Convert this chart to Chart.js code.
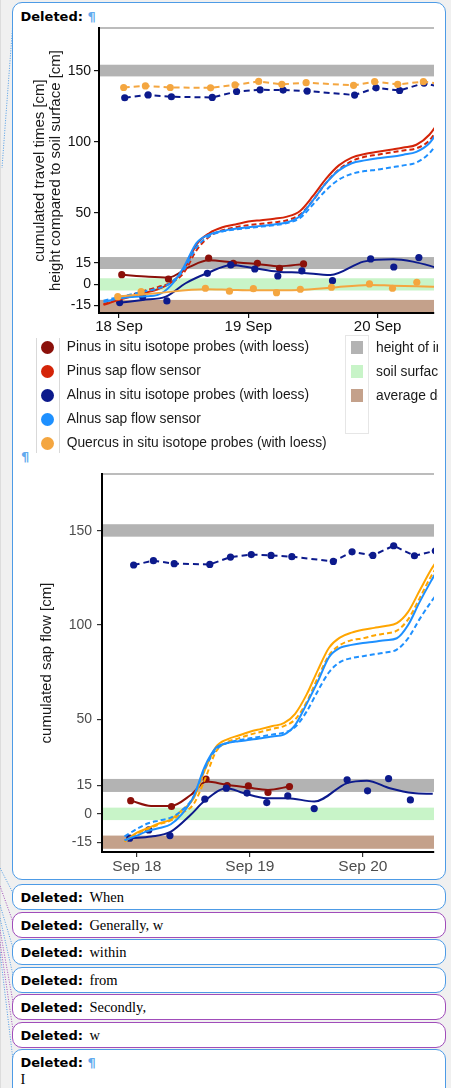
<!DOCTYPE html>
<html>
<head>
<meta charset="utf-8">
<script src="https://cdn.jsdelivr.net/npm/chart.js@4.4.1/dist/chart.umd.min.js"></script>
<style>
  body { margin:0; width:451px; height:1088px; background:#f0f0f0; position:relative; overflow:hidden;
         font-family:"Liberation Sans", Arial, sans-serif; }
  .bal { position:absolute; left:12px; width:434px; box-sizing:border-box; background:#fff;
         border:1.5px solid #4d9be6; border-radius:10px; padding-left:7.5px; line-height:23px; }
  .bal.p { border-color:#a04cba; }
  .d { font:bold 13px "DejaVu Sans", sans-serif; color:#000; }
  .s { font:14.5px "Liberation Serif", serif; color:#000; margin-left:2px; }
  .pil { font:bold 13px "DejaVu Sans", sans-serif; color:#62aaee; }
  canvas { position:absolute; left:0; }
  #leg { position:absolute; left:0; top:330px; width:438px; height:130px; overflow:hidden; }
  #leg div { position:absolute; }
  .lt { font-size:13.8px; color:#1a1a1a; white-space:nowrap; line-height:16px; }
</style>
</head>
<body>

<svg width="451" height="1088" style="position:absolute;left:0;top:0">
  <line x1="0.5" y1="0" x2="0.5" y2="1088" stroke="#dcdcdc" stroke-width="1"/>
  <g fill="none" stroke-width="1" stroke-dasharray="1,1.5">
    <line x1="14" y1="8" x2="2" y2="168" stroke="#4d9be6"/>
    <line x1="0" y1="868" x2="13" y2="893" stroke="#4d9be6"/>
    <line x1="0" y1="886" x2="13" y2="922" stroke="#a04cba"/>
    <line x1="0" y1="905" x2="13" y2="948" stroke="#4d9be6"/>
    <line x1="0" y1="918" x2="13" y2="975" stroke="#4d9be6"/>
    <line x1="0" y1="930" x2="13" y2="1002" stroke="#a04cba"/>
    <line x1="0" y1="942" x2="13" y2="1030" stroke="#a04cba"/>
    <line x1="0" y1="952" x2="13" y2="1060" stroke="#4d9be6"/>
  </g>
</svg>

<div class="bal" style="top:2px;height:878px;line-height:26px"><span class="d">Deleted:</span> <span class="pil">¶</span>
  <div class="pil" style="position:absolute;left:8px;top:446px">¶</div>
</div>
<div class="bal" style="top:884px;height:26px"><span class="d">Deleted:</span> <span class="s">When</span></div>
<div class="bal p" style="top:912px;height:26px"><span class="d">Deleted:</span> <span class="s">Generally, w</span></div>
<div class="bal" style="top:939px;height:26px"><span class="d">Deleted:</span> <span class="s">within</span></div>
<div class="bal" style="top:967px;height:26px"><span class="d">Deleted:</span> <span class="s">from</span></div>
<div class="bal p" style="top:994px;height:26px"><span class="d">Deleted:</span> <span class="s">Secondly,</span></div>
<div class="bal p" style="top:1022px;height:26px"><span class="d">Deleted:</span> <span class="s">w</span></div>
<div class="bal" style="top:1049px;height:60px;line-height:17px;padding-top:3px"><span class="d">Deleted:</span> <span class="pil">¶</span><br><span class="s" style="margin:0">I</span></div>

<canvas id="c1" width="438" height="340" style="top:0"></canvas>
<div id="leg"></div>
<canvas id="c2" width="438" height="420" style="top:460px"></canvas>

<script>
Chart.defaults.font.family = '"Liberation Sans", Arial, sans-serif';

// shared axis ticks (days after 18 Sep)
const xTickDays = [0, 1, 2];
const xLabels1 = ["18 Sep", "19 Sep", "20 Sep"];
const xLabels2 = ["Sep 18", "Sep 19", "Sep 20"];
const yTicks = [-15, 0, 15, 50, 100, 150];

// reference bands (gray = probe heights, green = soil surface, brown = depth)
const bandColors = ["#b3b3b3", "#b3b3b3", "#c8f4c8", "#c4a18b"];
const bandLo1 = [146, 10.7, -4.4, -19.9];
const bandHi1 = [154.2, 19.1, 4.2, -11];
const bandLo2 = [146.8, 11.6, -3.3, -18.5];
const bandHi2 = [153.4, 18.5, 3.3, -11.5];

// ---------- top panel ----------
const quercusTopX1 = [0.036, 0.204, 0.396, 0.708, 0.897, 1.08, 1.259, 1.447, 1.814, 1.977, 2.155, 2.354, 2.55];
const quercusTopY1 = [138.2, 139.3, 138.2, 138, 140, 142.5, 140.4, 141.6, 139.7, 142.3, 140.4, 142.3, 140];
const alnusTopX1 = [0.044, 0.225, 0.405, 0.721, 0.909, 1.091, 1.269, 1.455, 1.822, 1.988, 2.17, 2.359, 2.55];
const alnusTopY1 = [131, 133, 131.7, 131.2, 135.4, 136.6, 136.4, 135.7, 132.9, 138, 136.1, 141.3, 137];

const pinusProbeX1 = [0.021, 0.382, 0.693, 0.884, 1.07, 1.241, 1.427];
const pinusProbeY1 = [6.7, 3.7, 18.3, 14.7, 14.7, 11.2, 14.3];
const pinusLoessX1 = [0.021, 0.23, 0.382, 0.54, 0.693, 0.884, 1.07, 1.241, 1.427];
const pinusLoessY1 = [6.7, 5.3, 4.8, 12, 16.8, 15.4, 14.3, 12.6, 14.3];

const alnusProbeX1 = [0.005, 0.183, 0.37, 0.683, 0.864, 1.05, 1.228, 1.414, 1.651, 1.946, 2.125, 2.319];
const alnusProbeY1 = [-12.9, -8.7, -11.7, 7.7, 13.6, 10.7, 5.8, 9.4, 2.5, 17.8, 12.1, 18.7];
const alnusLoessX1 = [0.018, 0.183, 0.362, 0.515, 0.68, 0.871, 1.05, 1.228, 1.414, 1.635, 1.891, 2.12, 2.273, 2.426, 2.55];
const alnusLoessY1 = [-12.9, -11, -8.7, 0.7, 7.7, 13.6, 11.2, 8.8, 8.1, 6.5, 15.9, 17.6, 15.9, 12.4, 9];

const quercusProbeX1 = [-0.01, 0.171, 0.668, 0.854, 1.039, 1.218, 1.402, 1.643, 1.937, 2.115, 2.303];
const quercusProbeY1 = [-8.7, -5.2, -2.8, -4.9, -3.1, -5.9, -3.5, -2.1, 0.2, -2.8, 1.4];
const quercusLoessX1 = [-0.024, 0.286, 0.668, 0.871, 1.04, 1.4, 1.643, 1.937, 2.115, 2.426, 2.55];
const quercusLoessY1 = [-8.7, -6.3, -3.5, -4, -4.3, -4, -2.4, -0.5, -1, -1.7, -2];

const sapDays1 = [-0.12, 0, 0.1, 0.2, 0.3, 0.4, 0.5, 0.6, 0.7, 0.8, 0.9, 1.0, 1.1, 1.2, 1.3, 1.4, 1.5, 1.6, 1.7, 1.8, 1.9, 2.0, 2.1, 2.2, 2.3, 2.4, 2.5];
const pinusSap1     = [-14.5, -11, -8.5, -6, -3.5, 1, 10, 28, 36, 40, 42, 44, 45, 46, 47.5, 51.5, 62, 74, 83.5, 89, 91.5, 93, 94.5, 96, 98, 105, 118];
const pinusSapDash1 = [-14, -10.5, -7.5, -4.5, -2, 1, 8, 24, 33.5, 38, 40, 41.5, 42.5, 43.5, 45, 49, 59, 71, 80.5, 86.5, 89.5, 91, 92.5, 94, 95.5, 101, 114];
const alnusSap1     = [-12.5, -10, -9, -8.5, -7.5, -1, 12, 29, 35, 37.5, 39, 40, 41, 42, 43.5, 48, 59, 71, 80, 85, 87, 88.5, 89.5, 91, 93, 99, 112];
const alnusSapDash1 = [-11.5, -9, -7, -5, -3, 1, 10, 26, 34, 37, 38.5, 39.5, 40.5, 41.5, 43, 46.5, 56, 66, 73.5, 77.5, 79.5, 80.5, 82, 83.5, 85.5, 92, 104];

// ---------- bottom panel ----------
const alnusTopX2 = [-0.029, 0.146, 0.33, 0.645, 0.828, 1.012, 1.187, 1.371, 1.738, 1.904, 2.088, 2.272, 2.456, 2.64];
const alnusTopY2 = [131.8, 134.1, 132.5, 132.1, 136, 137.3, 136.9, 136.2, 133.7, 138.8, 136.9, 142, 136.7, 139.3];

const pinusProbeX2 = [-0.055, 0.306, 0.612, 0.799, 0.986, 1.16, 1.35];
const pinusProbeY2 = [7, 3.9, 18.4, 15, 14.8, 11.3, 14.5];
const pinusLoessX2 = [-0.055, 0.126, 0.301, 0.476, 0.616, 0.796, 0.986, 1.16, 1.35];
const pinusLoessY2 = [7, 4.2, 4.2, 10, 17.1, 15.4, 13.9, 12.7, 14.5];

const alnusProbeX2 = [-0.064, 0.105, 0.292, 0.601, 0.791, 0.974, 1.149, 1.335, 1.569, 1.86, 2.041, 2.227, 2.42];
const alnusProbeY2 = [-12.9, -8.5, -11.5, 7.8, 13.6, 11, 6, 9.5, 2.8, 18, 12.2, 18.7, 7.4];
const alnusLoessX2 = [-0.055, 0.126, 0.301, 0.476, 0.592, 0.796, 0.942, 1.149, 1.335, 1.569, 1.86, 2.035, 2.239, 2.443, 2.618];
const alnusLoessY2 = [-12.9, -12, -9.4, -0.5, 6.5, 13.6, 11, 8.3, 8.3, 6.5, 16.3, 17.6, 13.6, 11, 10.6];

const sapDays2 = [-0.11, 0, 0.1, 0.2, 0.3, 0.4, 0.5, 0.6, 0.7, 0.8, 0.9, 1.0, 1.1, 1.2, 1.3, 1.4, 1.5, 1.6, 1.7, 1.8, 1.9, 2.0, 2.1, 2.2, 2.3, 2.4, 2.5, 2.6, 2.7];
const quercusSap2     = [-14.7, -10, -7.5, -5, -3, 2, 8, 23, 35.5, 39.5, 41.5, 43.5, 45, 46.5, 48, 53, 63, 76, 88, 93.5, 96, 97.5, 98.5, 99.5, 101, 107, 118, 129, 138];
const quercusSapDash2 = [-14.5, -10.5, -8, -5.5, -3.5, 0.5, 5, 18, 33, 38, 40, 42, 43.5, 45, 46.5, 50, 59, 72, 84, 89.5, 92, 93, 94.5, 95.5, 97, 103, 114, 125.5, 135];
const alnusSap2       = [-14, -11.5, -9, -7.5, -5.5, 0, 9, 25, 35, 37.5, 38.5, 39.2, 40, 41, 42, 47, 58, 70, 83, 88, 89.5, 90.5, 91.2, 92, 93, 100, 112, 123, 133];
const alnusSapDash2   = [-12, -8, -5, -3.5, -2, 2, 9, 24, 34, 37.5, 39, 40, 41, 42, 43, 46, 54, 65, 75, 80.5, 82.5, 83.5, 84.5, 85.5, 87, 93, 103, 112, 120];

// legend of the top panel
const legendNames = ["Pinus in situ isotope probes (with loess)", "Pinus sap flow sensor",
  "Alnus in situ isotope probes (with loess)", "Alnus sap flow sensor", "Quercus in situ isotope probes (with loess)"];
const bandNames = ["height of installed probes", "soil surface", "average depth of roots"];

const C = {
  pinusDark: "#8b100a", pinusRed: "#d42408", navy: "#0c1a8c",
  blue: "#1e90ff", quercus: "#f4a640", orange: "#ffa500"
};
const legendColors = [C.pinusDark, C.pinusRed, C.navy, C.blue, C.quercus];
const bandKeyColors = ["#b3b3b3", "#c8f4c8", "#c4a18b"];

const xy = (xs, ys) => xs.map((x, i) => ({x: x, y: ys[i]}));

function pts(xs, ys, color) {
  return {data: xy(xs, ys), showLine: false, pointRadius: 3.6, pointBackgroundColor: color,
          pointBorderWidth: 0, borderColor: color};
}
function smooth(xs, ys, color, dash) {
  return {data: xy(xs, ys), borderColor: color, borderWidth: 2, pointRadius: 0,
          cubicInterpolationMode: "monotone", borderDash: dash || []};
}
function dashedPts(xs, ys, color, dash) {
  return {data: xy(xs, ys), borderColor: color, borderWidth: 2, borderDash: dash,
          pointRadius: 3.6, pointBackgroundColor: color, pointBorderWidth: 0, tension: 0};
}

const bandsPlugin = {
  id: "bands",
  beforeDraw(chart, args, opts) {
    const {ctx, chartArea: a, scales: {y}} = chart;
    ctx.save();
    opts.lo.forEach((lo, i) => {
      const t = y.getPixelForValue(opts.hi[i]);
      const b = y.getPixelForValue(lo);
      ctx.fillStyle = bandColors[i];
      ctx.fillRect(a.left, t, a.right - a.left, b - t);
    });
    ctx.strokeStyle = "#a6a6a6";
    ctx.lineWidth = 1.5;
    ctx.beginPath();
    ctx.moveTo(a.left, a.top);
    ctx.lineTo(a.right, a.top);
    ctx.stroke();
    ctx.restore();
  }
};

function makeChart(id, cfg) {
  return new Chart(document.getElementById(id), {
    type: "line",
    data: {datasets: cfg.datasets},
    plugins: [bandsPlugin],
    options: {
      responsive: false, animation: false, devicePixelRatio: 1,
      layout: {padding: {top: cfg.top, left: 0, right: 0, bottom: 0}},
      plugins: {legend: {display: false}, tooltip: {enabled: false},
                bands: {lo: cfg.lo, hi: cfg.hi}},
      scales: {
        x: {
          type: "linear", min: cfg.xmin, max: cfg.xmax,
          afterBuildTicks: s => { s.ticks = xTickDays.map(v => ({value: v})); },
          afterFit: s => { s.height = cfg.xh; },
          ticks: {autoSkip: false, maxRotation: 0, padding: 0, color: cfg.labelColor,
                  font: {size: cfg.xfont}, callback: (v, i) => cfg.xLabels[i]},
          grid: {drawOnChartArea: false, tickLength: 5, color: cfg.tickColor, lineWidth: 1.2},
          border: {display: true, color: "#000", width: 2}
        },
        y: {
          min: -20.2, max: 180,
          afterBuildTicks: s => { s.ticks = yTicks.map(v => ({value: v})); },
          afterFit: s => { s.width = cfg.yw; },
          ticks: {padding: cfg.ypad, color: cfg.labelColor, font: {size: 14}},
          grid: {drawOnChartArea: false, tickLength: 5, color: cfg.tickColor, lineWidth: 1.2},
          border: {display: true, color: "#000", width: 2},
          title: {display: true, text: cfg.title, color: "#1a1a1a",
                  font: {size: 15, lineHeight: 1.05}, padding: {top: cfg.titlePad, bottom: 0}}
        }
      }
    }
  });
}

makeChart("c1", {
  top: 28, xmin: -0.155, xmax: 2.436, xh: 27, yw: 99, ypad: 3, xfont: 15,
  labelColor: "#111", tickColor: "#111", xLabels: xLabels1,
  lo: bandLo1, hi: bandHi1, titlePad: 32,
  title: ["cumulated travel times [cm]", "height compared to soil surface [cm]"],
  datasets: [
    dashedPts(quercusTopX1, quercusTopY1, C.quercus, [6, 4]),
    dashedPts(alnusTopX1, alnusTopY1, C.navy, [6, 4]),
    smooth(quercusLoessX1, quercusLoessY1, C.quercus),
    pts(quercusProbeX1, quercusProbeY1, C.quercus),
    smooth(sapDays1, alnusSapDash1, C.blue, [5, 3]),
    smooth(sapDays1, alnusSap1, C.blue),
    smooth(sapDays1, pinusSapDash1, C.pinusRed, [5, 3]),
    smooth(sapDays1, pinusSap1, C.pinusRed),
    smooth(alnusLoessX1, alnusLoessY1, C.navy),
    pts(alnusProbeX1, alnusProbeY1, C.navy),
    smooth(pinusLoessX1, pinusLoessY1, C.pinusDark),
    pts(pinusProbeX1, pinusProbeY1, C.pinusDark)
  ]
});

makeChart("c2", {
  top: 14, xmin: -0.309, xmax: 2.629, xh: 28, yw: 102, ypad: 5, xfont: 15.5,
  labelColor: "#4d4d4d", tickColor: "#333", xLabels: xLabels2,
  lo: bandLo2, hi: bandHi2, titlePad: 39,
  title: "cumulated sap flow [cm]",
  datasets: [
    dashedPts(alnusTopX2, alnusTopY2, C.navy, [6, 4]),
    smooth(sapDays2, alnusSapDash2, C.blue, [5, 3]),
    smooth(sapDays2, alnusSap2, C.blue),
    smooth(sapDays2, quercusSapDash2, C.orange, [5, 3]),
    smooth(sapDays2, quercusSap2, C.orange),
    smooth(alnusLoessX2, alnusLoessY2, C.navy),
    pts(alnusProbeX2, alnusProbeY2, C.navy),
    smooth(pinusLoessX2, pinusLoessY2, C.pinusDark),
    pts(pinusProbeX2, pinusProbeY2, C.pinusDark)
  ]
});

// legend of the top panel (page coords minus 330)
const leg = document.getElementById("leg");
let h = "";
h += '<div style="left:36px;top:8px;width:22px;height:115px;border-left:1px solid #d9d9d9;border-right:1px solid #d9d9d9"></div>';
legendNames.forEach((n, i) => {
  const cy = 17.3 + i * 24;
  h += '<div style="left:40.6px;top:' + (cy - 6.7) + 'px;width:13.4px;height:13.4px;border-radius:50%;background:' + legendColors[i] + '"></div>';
  h += '<div class="lt" style="left:66.7px;top:' + (cy - 8) + 'px">' + n + '</div>';
});
h += '<div style="left:345px;top:5px;width:24px;height:99px;border:1px solid #e6e6e6;box-sizing:border-box"></div>';
bandNames.forEach((n, i) => {
  const cy = 17.7 + i * 24;
  h += '<div style="left:350.7px;top:' + (cy - 6.6) + 'px;width:12.6px;height:13.2px;background:' + bandKeyColors[i] + '"></div>';
  h += '<div class="lt" style="left:376px;top:' + (cy - 8) + 'px">' + n + '</div>';
});
leg.innerHTML = h;
</script>
</body>
</html>
